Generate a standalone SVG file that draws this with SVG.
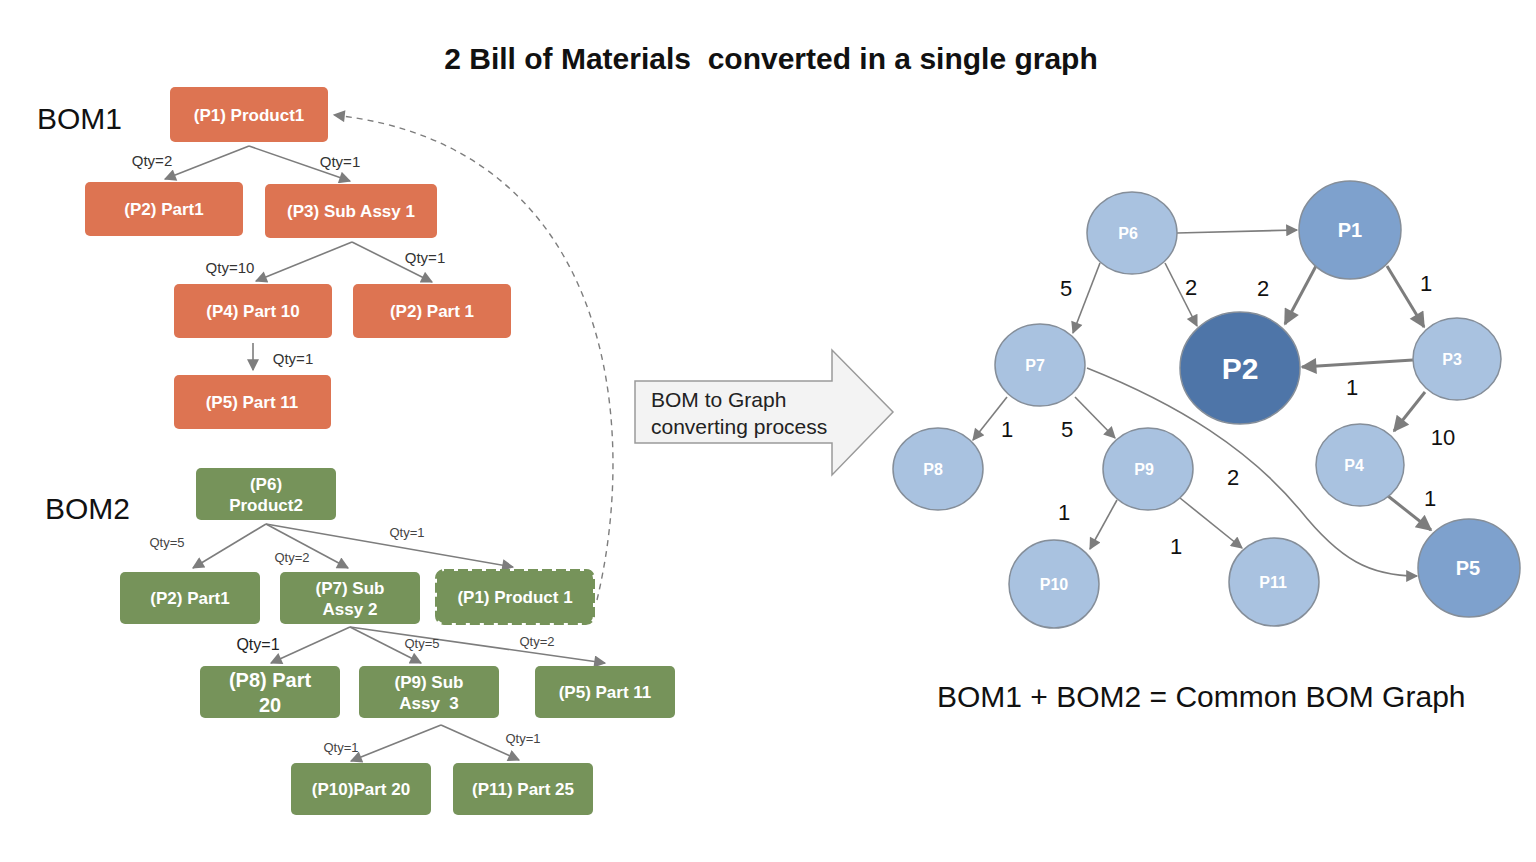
<svg xmlns="http://www.w3.org/2000/svg" width="1536" height="862" viewBox="0 0 1536 862">
<style>
.bg{fill:#ffffff}
.ob{fill:#DD7452}
.gb{fill:#76935A}
.bt{font-family:"Liberation Sans",Arial,sans-serif;font-weight:bold;font-size:17px;fill:#ffffff;text-anchor:middle}
.q{font-family:"Liberation Sans",Arial,sans-serif;font-size:15px;fill:#333333;text-anchor:middle}
.qs{font-family:"Liberation Sans",Arial,sans-serif;font-size:13px;fill:#444444;text-anchor:middle}
.lbl{font-family:"Liberation Sans",Arial,sans-serif;font-size:30px;fill:#111111}
.ed{stroke:#7d7d7d;stroke-width:1.6;fill:none}
.edt{stroke:#7d7d7d;stroke-width:3;fill:none}
.cl{fill:#A9C2E0;stroke:#858e99;stroke-width:1.5}
.cm{fill:#7EA1CD;stroke:#858e99;stroke-width:1.5}
.cd{fill:#4E75A8;stroke:#858e99;stroke-width:1.5}
.ct{font-family:"Liberation Sans",Arial,sans-serif;font-weight:bold;font-size:16px;fill:#ffffff;text-anchor:middle}
.en{font-family:"Liberation Sans",Arial,sans-serif;font-size:22px;fill:#111111;text-anchor:middle}
</style>
<defs>
<marker id="ah" viewBox="0 0 10 10" refX="9" refY="5" markerWidth="14" markerHeight="12" markerUnits="userSpaceOnUse" orient="auto">
<path d="M0,0 L10,5 L0,10 z" fill="#7d7d7d"/>
</marker>
<marker id="ahb" viewBox="0 0 10 10" refX="9" refY="5" markerWidth="18" markerHeight="16" markerUnits="userSpaceOnUse" orient="auto">
<path d="M0,0 L10,5 L0,10 z" fill="#7d7d7d"/>
</marker>
</defs>
<rect class="bg" x="0" y="0" width="1536" height="862"/>

<text x="771" y="69" text-anchor="middle" style="white-space:pre" font-family="Liberation Sans, Arial, sans-serif" font-weight="bold" font-size="30" fill="#111">2 Bill of Materials  converted in a single graph</text>
<text class="lbl" x="37" y="129">BOM1</text>
<text class="lbl" x="45" y="519">BOM2</text>
<text class="lbl" x="937" y="707">BOM1 + BOM2 = Common BOM Graph</text>

<g id="connectors">
<!-- BOM1 -->
<path class="ed" d="M249,146 L165,179" marker-end="url(#ah)"/>
<path class="ed" d="M249,146 L350,181" marker-end="url(#ah)"/>
<path class="ed" d="M352,242 L256,281" marker-end="url(#ah)"/>
<path class="ed" d="M352,242 L432,282" marker-end="url(#ah)"/>
<path class="ed" d="M253,343 L253,370" marker-end="url(#ah)"/>
<text class="q" x="152" y="166">Qty=2</text>
<text class="q" x="340" y="167">Qty=1</text>
<text class="q" x="230" y="273">Qty=10</text>
<text class="q" x="425" y="263">Qty=1</text>
<text class="q" x="293" y="364">Qty=1</text>
<!-- dashed link -->
<path d="M597,600 C640,420 610,145 334,115" fill="none" stroke="#7d7d7d" stroke-width="1.4" stroke-dasharray="6,5" marker-end="url(#ah)"/>
<!-- BOM2 -->
<path class="ed" d="M266,524 L193,568" marker-end="url(#ah)"/>
<path class="ed" d="M266,524 L348,568" marker-end="url(#ah)"/>
<path class="ed" d="M266,524 L513,567" marker-end="url(#ah)"/>
<text class="qs" x="167" y="547">Qty=5</text>
<text class="qs" x="292" y="562">Qty=2</text>
<text class="qs" x="407" y="537">Qty=1</text>
<path class="ed" d="M350,627 L271,663" marker-end="url(#ah)"/>
<path class="ed" d="M350,627 L421,663" marker-end="url(#ah)"/>
<path class="ed" d="M350,627 L605,663" marker-end="url(#ah)"/>
<text x="258" y="650" text-anchor="middle" font-family="Liberation Sans, Arial, sans-serif" font-size="16" fill="#222">Qty=1</text>
<text class="qs" x="422" y="648">Qty=5</text>
<text class="qs" x="537" y="646">Qty=2</text>
<path class="ed" d="M441,725 L351,761" marker-end="url(#ah)"/>
<path class="ed" d="M441,725 L519,760" marker-end="url(#ah)"/>
<text class="qs" x="341" y="752">Qty=1</text>
<text class="qs" x="523" y="743">Qty=1</text>
<!-- graph edges -->
<path class="ed" d="M1177,233 L1297,230" marker-end="url(#ah)"/>
<path class="ed" d="M1100,263 L1073,333" marker-end="url(#ah)"/>
<path class="ed" d="M1165,263 L1197,326" marker-end="url(#ah)"/>
<path class="edt" d="M1316,266 L1285,324" marker-end="url(#ahb)"/>
<path class="edt" d="M1387,266 L1424,327" marker-end="url(#ahb)"/>
<path class="edt" d="M1413,360 L1302,367" marker-end="url(#ahb)"/>
<path class="edt" d="M1425,392 L1394,431" marker-end="url(#ahb)"/>
<path class="edt" d="M1388,496 L1431,530" marker-end="url(#ahb)"/>
<path class="ed" d="M1007,397 L973,440" marker-end="url(#ah)"/>
<path class="ed" d="M1075,397 L1115,438" marker-end="url(#ah)"/>
<path class="ed" d="M1087,368 C1180,405 1250,450 1300,510 C1340,560 1370,576 1417,576" marker-end="url(#ah)"/>
<path class="ed" d="M1117,500 L1090,549" marker-end="url(#ah)"/>
<path class="ed" d="M1180,498 L1242,548" marker-end="url(#ah)"/>
<text class="en" x="1066" y="296">5</text>
<text class="en" x="1191" y="295">2</text>
<text class="en" x="1263" y="296">2</text>
<text class="en" x="1426" y="291">1</text>
<text class="en" x="1352" y="395">1</text>
<text class="en" x="1443" y="445">10</text>
<text class="en" x="1430" y="506">1</text>
<text class="en" x="1007" y="437">1</text>
<text class="en" x="1067" y="437">5</text>
<text class="en" x="1233" y="485">2</text>
<text class="en" x="1064" y="520">1</text>
<text class="en" x="1176" y="554">1</text>
</g>

<g id="convert-arrow">
<path d="M635,381 L832,381 L832,350 L893,412 L832,475 L832,443 L635,443 Z" fill="#F3F3F3" stroke="#9a9a9a" stroke-width="1.5"/>
<text x="651" y="407" font-family="Liberation Sans, Arial, sans-serif" font-size="21" fill="#222">BOM to Graph</text>
<text x="651" y="434" font-family="Liberation Sans, Arial, sans-serif" font-size="21" fill="#222">converting process</text>
</g>

<!-- BOM1 nodes -->
<g id="b1-p1"><rect class="ob" x="170" y="87" width="158" height="55" rx="5"/><text class="bt" x="249" y="121">(P1) Product1</text></g>
<g id="b1-p2"><rect class="ob" x="85" y="182" width="158" height="54" rx="5"/><text class="bt" x="164" y="215">(P2) Part1</text></g>
<g id="b1-p3"><rect class="ob" x="265" y="184" width="172" height="54" rx="5"/><text class="bt" x="351" y="217">(P3) Sub Assy 1</text></g>
<g id="b1-p4"><rect class="ob" x="174" y="284" width="158" height="54" rx="5"/><text class="bt" x="253" y="317">(P4) Part 10</text></g>
<g id="b1-p2b"><rect class="ob" x="353" y="284" width="158" height="54" rx="5"/><text class="bt" x="432" y="317">(P2) Part 1</text></g>
<g id="b1-p5"><rect class="ob" x="174" y="375" width="157" height="54" rx="5"/><text class="bt" x="252" y="408">(P5) Part 11</text></g>

<!-- BOM2 nodes -->
<g id="b2-p6"><rect class="gb" x="196" y="468" width="140" height="52" rx="5"/><text class="bt" x="266" y="490">(P6)</text><text class="bt" x="266" y="511">Product2</text></g>
<g id="b2-p2"><rect class="gb" x="120" y="572" width="140" height="52" rx="5"/><text class="bt" x="190" y="604">(P2) Part1</text></g>
<g id="b2-p7"><rect class="gb" x="280" y="572" width="140" height="52" rx="5"/><text class="bt" x="350" y="594">(P7) Sub</text><text class="bt" x="350" y="615">Assy 2</text></g>
<g id="b2-p1"><rect class="gb" x="437" y="571" width="156" height="52" rx="7" stroke="#76935A" stroke-width="4" stroke-dasharray="10,4"/><text class="bt" x="515" y="603">(P1) Product 1</text></g>
<g id="b2-p8"><rect class="gb" x="200" y="666" width="140" height="52" rx="5"/><text class="bt" x="270" y="687" style="font-size:20px">(P8) Part</text><text class="bt" x="270" y="712" style="font-size:20px">20</text></g>
<g id="b2-p9"><rect class="gb" x="359" y="666" width="140" height="52" rx="5"/><text class="bt" x="429" y="688" style="white-space:pre">(P9) Sub</text><text class="bt" x="429" y="709" style="white-space:pre">Assy  3</text></g>
<g id="b2-p5"><rect class="gb" x="535" y="666" width="140" height="52" rx="5"/><text class="bt" x="605" y="698">(P5) Part 11</text></g>
<g id="b2-p10"><rect class="gb" x="291" y="763" width="140" height="52" rx="5"/><text class="bt" x="361" y="795">(P10)Part 20</text></g>
<g id="b2-p11"><rect class="gb" x="453" y="763" width="140" height="52" rx="5"/><text class="bt" x="523" y="795">(P11) Part 25</text></g>

<!-- Graph nodes -->
<g id="g-p6"><ellipse class="cl" cx="1132" cy="233" rx="45" ry="41"/><text class="ct" x="1128" y="239">P6</text></g>
<g id="g-p1"><ellipse class="cm" cx="1350" cy="230" rx="51" ry="49"/><text class="ct" x="1350" y="237" style="font-size:20px">P1</text></g>
<g id="g-p2"><ellipse class="cd" cx="1240" cy="368" rx="60" ry="56"/><text class="ct" x="1240" y="379" style="font-size:30px">P2</text></g>
<g id="g-p3"><ellipse class="cl" cx="1457" cy="359" rx="44" ry="41"/><text class="ct" x="1452" y="365">P3</text></g>
<g id="g-p7"><ellipse class="cl" cx="1040" cy="365" rx="45" ry="41"/><text class="ct" x="1035" y="371">P7</text></g>
<g id="g-p8"><ellipse class="cl" cx="938" cy="469" rx="45" ry="41"/><text class="ct" x="933" y="475">P8</text></g>
<g id="g-p9"><ellipse class="cl" cx="1148" cy="469" rx="45" ry="41"/><text class="ct" x="1144" y="475">P9</text></g>
<g id="g-p4"><ellipse class="cl" cx="1360" cy="465" rx="44" ry="41"/><text class="ct" x="1354" y="471">P4</text></g>
<g id="g-p10"><ellipse class="cl" cx="1054" cy="584" rx="45" ry="44"/><text class="ct" x="1054" y="590">P10</text></g>
<g id="g-p11"><ellipse class="cl" cx="1274" cy="582" rx="45" ry="44"/><text class="ct" x="1273" y="588">P11</text></g>
<g id="g-p5"><ellipse class="cm" cx="1469" cy="568" rx="51" ry="49"/><text class="ct" x="1468" y="575" style="font-size:20px">P5</text></g>
</svg>
